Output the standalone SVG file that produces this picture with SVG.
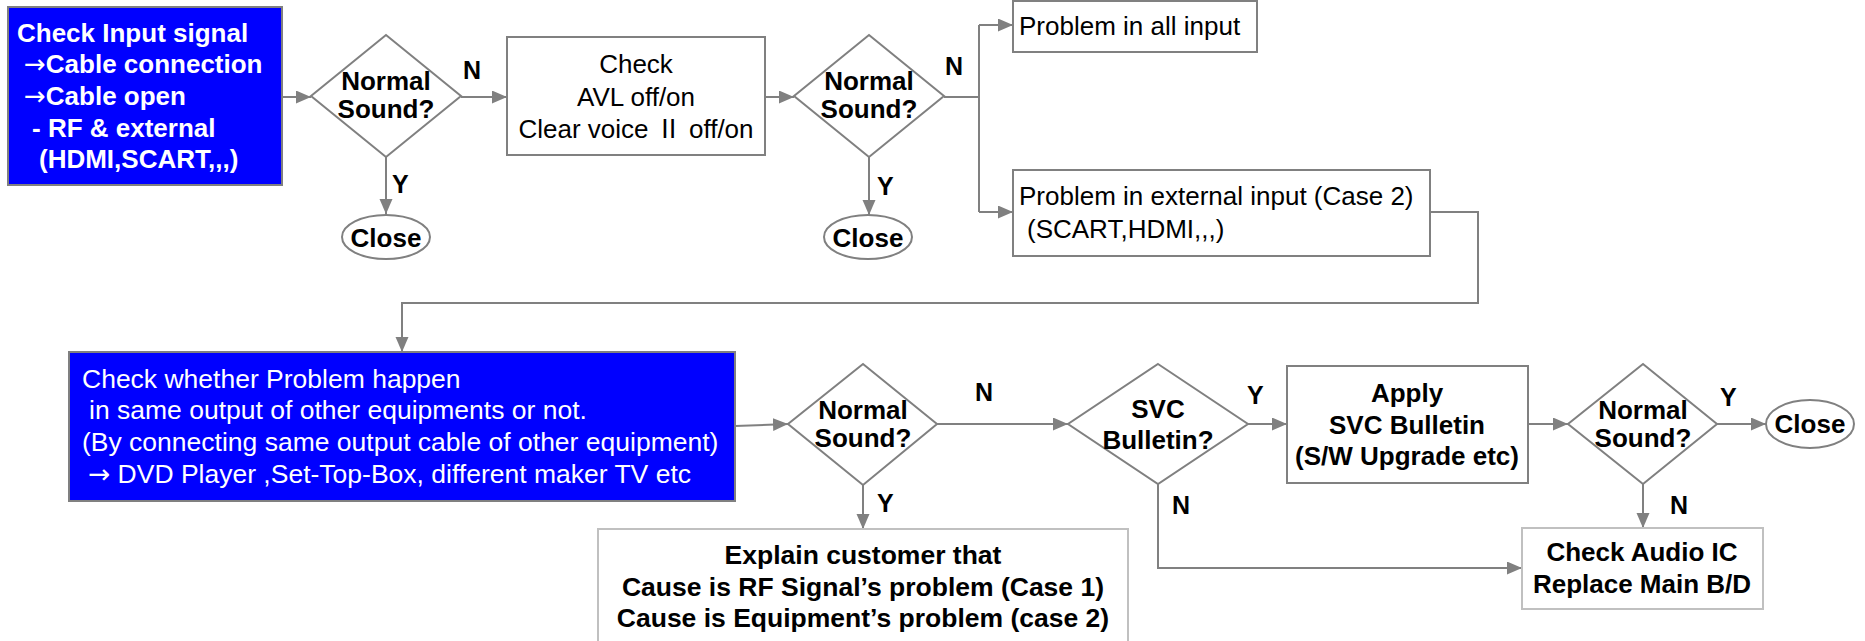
<svg xmlns="http://www.w3.org/2000/svg" width="1865" height="641" viewBox="0 0 1865 641">
<style>
text{font-family:"Liberation Sans",Arial,"Noto Sans CJK KR",sans-serif;font-size:26px;fill:#000}
.b{font-weight:bold}
.w{fill:#fff}
.c{text-anchor:middle}
.m{font-size:26.5px}
.arr{font-family:"DejaVu Sans",sans-serif;font-weight:normal}
.lbl{font-weight:bold;font-size:25px}
.box{fill:#fff;stroke:#808080;stroke-width:2}
.lbox{fill:#fff;stroke:#c0c0c0;stroke-width:2}
.blue{fill:#0000ff;stroke:#808080;stroke-width:2}
.dia{fill:#fff;stroke:#808080;stroke-width:2}
.conn path{fill:none;stroke:#808080;stroke-width:2}
</style>
<defs>
<marker id="ah" markerUnits="userSpaceOnUse" markerWidth="16" markerHeight="14" refX="15" refY="6.5" orient="auto">
<path d="M0,0 L15,6.5 L0,13 z" fill="#808080"/>
</marker>
</defs>

<g class="conn">
<path d="M282,97 H311" marker-end="url(#ah)"/>
<path d="M461,97 H507" marker-end="url(#ah)"/>
<path d="M386,157 V214" marker-end="url(#ah)"/>
<path d="M765,97 H794" marker-end="url(#ah)"/>
<path d="M869,157 V215" marker-end="url(#ah)"/>
<path d="M944,97 H979"/>
<path d="M979,25 V212"/>
<path d="M979,25 H1013" marker-end="url(#ah)"/>
<path d="M979,212 H1013" marker-end="url(#ah)"/>
<path d="M1430,212 H1478 V303 H402 V352" marker-end="url(#ah)"/>
<path d="M735,426 L788,424" marker-end="url(#ah)"/>
<path d="M937,424 H1068" marker-end="url(#ah)"/>
<path d="M863,485 V529" marker-end="url(#ah)"/>
<path d="M1248,424 H1287" marker-end="url(#ah)"/>
<path d="M1158,484 V568 H1522" marker-end="url(#ah)"/>
<path d="M1528,424 H1568" marker-end="url(#ah)"/>
<path d="M1717,424 H1766" marker-end="url(#ah)"/>
<path d="M1643,484 V528" marker-end="url(#ah)"/>
</g>

<g id="labels">
<text class="lbl" x="463" y="79">N</text>
<text class="lbl" x="392" y="193">Y</text>
<text class="lbl" x="945" y="75">N</text>
<text class="lbl" x="877" y="195">Y</text>
<text class="lbl" x="975" y="401">N</text>
<text class="lbl" x="877" y="512">Y</text>
<text class="lbl" x="1247" y="404">Y</text>
<text class="lbl" x="1172" y="514">N</text>
<text class="lbl" x="1720" y="406">Y</text>
<text class="lbl" x="1670" y="514">N</text>
</g>

<g id="start">
<rect class="blue" x="8" y="7" width="274" height="178"/>
<text class="b w" x="17" y="42">Check Input signal</text>
<text class="b w" x="24" y="73"><tspan class="arr">→</tspan>Cable connection</text>
<text class="b w" x="24" y="105"><tspan class="arr">→</tspan>Cable open</text>
<text class="b w" x="32" y="137">- RF &amp; external</text>
<text class="b w" x="39" y="168">(HDMI,SCART,,,)</text>
</g>

<g id="dec1">
<polygon class="dia" points="386,35 461,96 386,157 311,96"/>
<text class="b c" x="386" y="90">Normal</text>
<text class="b c" x="386" y="118">Sound?</text>
</g>

<g id="close1">
<ellipse class="box" cx="386" cy="237" rx="44" ry="22"/>
<text class="b c" x="386" y="247">Close</text>
</g>

<g id="checkavl">
<rect class="box" x="507" y="37" width="258" height="118"/>
<text class="c" x="636" y="73">Check</text>
<text class="c" x="636" y="106">AVL off/on</text>
<text class="c" x="636" y="138">Clear voice Ⅱ off/on</text>
</g>

<g id="dec2">
<polygon class="dia" points="869,35 944,96 869,157 794,96"/>
<text class="b c" x="869" y="90">Normal</text>
<text class="b c" x="869" y="118">Sound?</text>
</g>

<g id="close2">
<ellipse class="box" cx="868" cy="237" rx="44" ry="22"/>
<text class="b c" x="868" y="247">Close</text>
</g>

<g id="allinput">
<rect class="box" x="1013" y="1" width="244" height="51"/>
<text x="1019" y="35">Problem in all input</text>
</g>

<g id="extinput">
<rect class="box" x="1013" y="170" width="417" height="86"/>
<text x="1019" y="205">Problem in external input (Case 2)</text>
<text x="1027" y="238">(SCART,HDMI,,,)</text>
</g>

<g id="checkother">
<rect class="blue" x="69" y="352" width="666" height="149"/>
<text class="w m" x="82" y="388">Check whether Problem happen</text>
<text class="w m" x="89" y="419">in same output of other equipments or not.</text>
<text class="w m" x="82" y="451">(By connecting same output cable of other equipment)</text>
<text class="w m" x="88" y="483"><tspan class="arr">→</tspan> DVD Player ,Set-Top-Box, different maker TV etc</text>
</g>

<g id="dec3">
<polygon class="dia" points="863,364 937,424 863,485 788,424"/>
<text class="b c" x="863" y="419">Normal</text>
<text class="b c" x="863" y="447">Sound?</text>
</g>

<g id="explain">
<rect class="lbox" x="598" y="529" width="530" height="130"/>
<text class="b c m" x="863" y="564">Explain customer that</text>
<text class="b c m" x="863" y="596">Cause is RF Signal’s problem (Case 1)</text>
<text class="b c m" x="863" y="627">Cause is Equipment’s problem (case 2)</text>
</g>

<g id="svc">
<polygon class="dia" points="1158,364 1248,424 1158,484 1068,424"/>
<text class="b c" x="1158" y="418">SVC</text>
<text class="b c" x="1158" y="449">Bulletin?</text>
</g>

<g id="apply">
<rect class="box" x="1287" y="366" width="241" height="117"/>
<text class="b c" x="1407" y="402">Apply</text>
<text class="b c" x="1407" y="434">SVC Bulletin</text>
<text class="b c" x="1407" y="465">(S/W Upgrade etc)</text>
</g>

<g id="dec5">
<polygon class="dia" points="1643,364 1717,424 1643,484 1568,424"/>
<text class="b c" x="1643" y="419">Normal</text>
<text class="b c" x="1643" y="447">Sound?</text>
</g>

<g id="close3">
<ellipse class="box" cx="1810" cy="424" rx="44" ry="24"/>
<text class="b c" x="1810" y="433">Close</text>
</g>

<g id="audio">
<rect class="lbox" x="1522" y="528" width="241" height="81"/>
<text class="b c" x="1642" y="561">Check Audio IC</text>
<text class="b c" x="1642" y="593">Replace Main B/D</text>
</g>
</svg>
